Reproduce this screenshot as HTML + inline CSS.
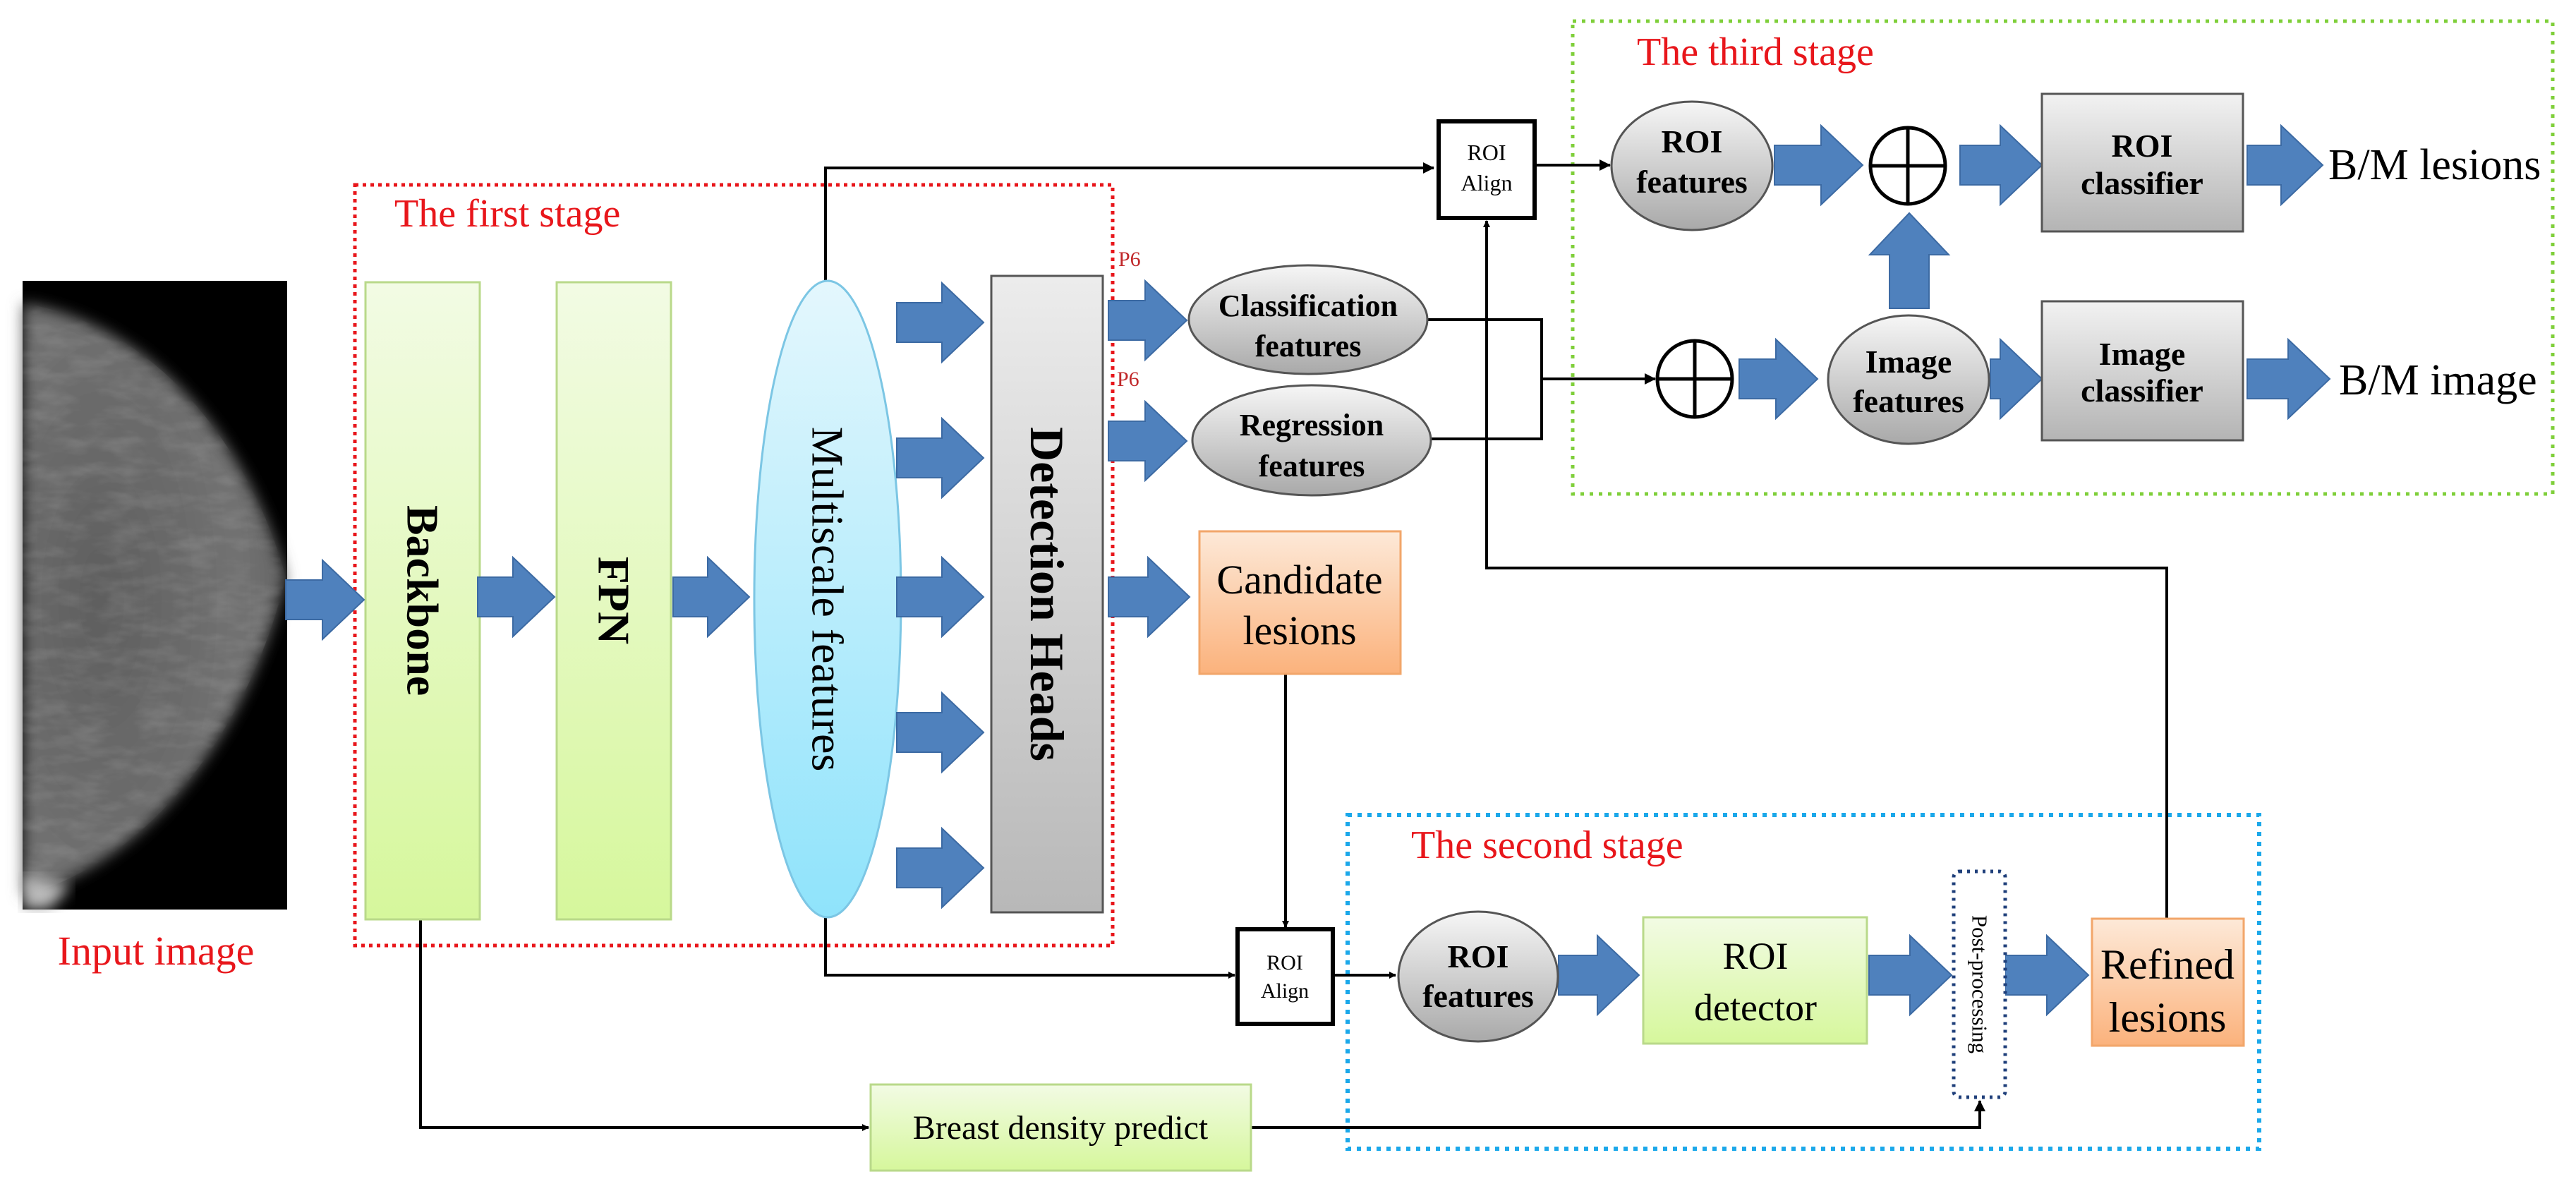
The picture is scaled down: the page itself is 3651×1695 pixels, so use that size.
<!DOCTYPE html>
<html><head><meta charset="utf-8"><style>html,body{margin:0;padding:0;background:#fff}svg{display:block}svg text{font-family:"Liberation Serif","Noto Serif CJK SC","DejaVu Serif",serif}</style></head>
<body>
<svg width="3651" height="1695" viewBox="0 0 3651 1695" xmlns="http://www.w3.org/2000/svg">
<defs>
<linearGradient id="gr" x1="0" y1="0" x2="0" y2="1"><stop offset="0" stop-color="#f2fbe4"/><stop offset="1" stop-color="#d6f79c"/></linearGradient>
<linearGradient id="gy" x1="0" y1="0" x2="0" y2="1"><stop offset="0" stop-color="#f2f2f2"/><stop offset="1" stop-color="#b4b4b4"/></linearGradient>
<linearGradient id="ge" x1="0" y1="0" x2="0" y2="1"><stop offset="0" stop-color="#f6f6f6"/><stop offset="1" stop-color="#a9a9a9"/></linearGradient>
<linearGradient id="gdh" x1="0" y1="0" x2="0" y2="1"><stop offset="0" stop-color="#ececec"/><stop offset="1" stop-color="#b8b8b8"/></linearGradient>
<linearGradient id="go" x1="0" y1="0" x2="0" y2="1"><stop offset="0" stop-color="#fde9d8"/><stop offset="1" stop-color="#fbb27c"/></linearGradient>
<linearGradient id="gb" x1="0" y1="0" x2="0" y2="1"><stop offset="0" stop-color="#e4f7fd"/><stop offset="1" stop-color="#8fe3fb"/></linearGradient>
<radialGradient id="gm" cx="0.3" cy="0.5" r="0.75"><stop offset="0" stop-color="#5e5e5e"/><stop offset="0.7" stop-color="#727272"/><stop offset="0.92" stop-color="#666"/><stop offset="1" stop-color="#2a2a2a"/></radialGradient>
<filter id="bl"><feGaussianBlur stdDeviation="10"/></filter>
<filter id="tx"><feTurbulence type="fractalNoise" baseFrequency="0.02 0.05" numOctaves="3" seed="4"/><feColorMatrix type="matrix" values="0 0 0 0 1  0 0 0 0 1  0 0 0 0 1  0 0 0.9 0 -0.35"/></filter>
<clipPath id="bc"><path d="M32,430 C230,460 360,650 405,818 C360,1010 230,1215 32,1270 Z"/></clipPath>
<marker id="ah" markerWidth="10" markerHeight="10" refX="9" refY="5" orient="auto" markerUnits="userSpaceOnUse"><path d="M0,0 L10,5 L0,10 z" fill="#000"/></marker>
<marker id="ahb" markerWidth="16" markerHeight="16" refX="15" refY="8" orient="auto" markerUnits="userSpaceOnUse"><path d="M0,0 L16,8 L0,16 z" fill="#000"/></marker>
</defs>

<!-- mammogram -->
<rect x="32" y="398" width="375" height="891" fill="#000"/>
<path d="M32,430 C230,460 360,650 405,818 C360,1010 230,1215 32,1270 Z" fill="url(#gm)" filter="url(#bl)"/>
<rect x="32" y="398" width="375" height="891" filter="url(#tx)" clip-path="url(#bc)" opacity="0.25"/>
<path d="M32,1240 L100,1255 L70,1289 L32,1289 Z" fill="#bbb" filter="url(#bl)"/>
<text x="221" y="1367" font-size="58" fill="#e8161b" text-anchor="middle">Input image</text>

<!-- stage boxes -->
<rect x="503" y="262" width="1074" height="1078" fill="none" stroke="#e8161b" stroke-width="5" stroke-dasharray="5,6"/>
<text x="559" y="321" font-size="56" fill="#e8161b">The first stage</text>
<rect x="2229" y="30" width="1389" height="670" fill="none" stroke="#7fcf3a" stroke-width="5" stroke-dasharray="5,8"/>
<text x="2320" y="92" font-size="56" fill="#e8161b">The third stage</text>
<rect x="1910" y="1155" width="1292" height="473" fill="none" stroke="#1ba8ea" stroke-width="6" stroke-dasharray="6,8"/>
<text x="2000" y="1216" font-size="56" fill="#e8161b">The second stage</text>

<!-- connector lines -->
<g stroke="#000" stroke-width="4" fill="none">
<polyline points="1170,398 1170,238 2032,238" marker-end="url(#ahb)"/>
<polyline points="1170,1300 1170,1382 1750,1382" marker-end="url(#ah)"/>
<polyline points="1822,955 1822,1314" marker-end="url(#ah)"/>
<polyline points="596,1303 596,1598 1231,1598" marker-end="url(#ah)"/>
<polyline points="1773,1598 2806,1598 2806,1560" marker-end="url(#ahb)"/>
<polyline points="2024,453 2185,453 2185,622 2029,622"/>
<polyline points="2185,537 2346,537" marker-end="url(#ahb)"/>
<polyline points="3071,1303 3071,805 2107,805 2107,313" marker-end="url(#ah)"/>
<polyline points="2175,234 2282,234" marker-end="url(#ahb)"/>
<polyline points="1889,1382 1978,1382" marker-end="url(#ah)"/>
</g>

<!-- first stage blocks -->
<rect x="518" y="400" width="162" height="903" fill="url(#gr)" stroke="#b9d98a" stroke-width="3"/>
<text transform="translate(599,851) rotate(90)" font-size="64" font-weight="bold" text-anchor="middle" dominant-baseline="central">Backbone</text>
<rect x="789" y="400" width="162" height="903" fill="url(#gr)" stroke="#b9d98a" stroke-width="3"/>
<text transform="translate(870,851) rotate(90)" font-size="64" font-weight="bold" text-anchor="middle" dominant-baseline="central">FPN</text>
<ellipse cx="1173" cy="849" rx="104" ry="451" fill="url(#gb)" stroke="#7cc6e4" stroke-width="3"/>
<text transform="translate(1173,849) rotate(90)" font-size="64" text-anchor="middle" dominant-baseline="central">Multiscale features</text>
<rect x="1405" y="391" width="158" height="902" fill="url(#gdh)" stroke="#555" stroke-width="3"/>
<text transform="translate(1484,842) rotate(90)" font-size="68" font-weight="bold" text-anchor="middle" dominant-baseline="central">Detection Heads</text>

<!-- blue arrows -->
<g fill="#4f81bd" stroke="#3c6aa3" stroke-width="2">
<path d="M405,822 L457,822 L457,794 L516,850 L457,906 L457,878 L405,878 Z"/>
<path d="M677,818 L727,818 L727,790 L786,846 L727,902 L727,874 L677,874 Z"/>
<path d="M954,818 L1003,818 L1003,790 L1062,846 L1003,902 L1003,874 L954,874 Z"/>
<path d="M1271,429 L1335,429 L1335,401 L1394,457 L1335,513 L1335,485 L1271,485 Z"/>
<path d="M1271,621 L1335,621 L1335,593 L1394,649 L1335,705 L1335,677 L1271,677 Z"/>
<path d="M1271,818 L1335,818 L1335,790 L1394,846 L1335,902 L1335,874 L1271,874 Z"/>
<path d="M1271,1010 L1335,1010 L1335,982 L1394,1038 L1335,1094 L1335,1066 L1271,1066 Z"/>
<path d="M1271,1202 L1335,1202 L1335,1174 L1394,1230 L1335,1286 L1335,1258 L1271,1258 Z"/>
<path d="M1571,426 L1623,426 L1623,398 L1682,454 L1623,510 L1623,482 L1571,482 Z"/>
<path d="M1571,597 L1623,597 L1623,569 L1682,625 L1623,681 L1623,653 L1571,653 Z"/>
<path d="M1571,818 L1627,818 L1627,790 L1686,846 L1627,902 L1627,874 L1571,874 Z"/>
<path d="M2515,206 L2581,206 L2581,178 L2640,234 L2581,290 L2581,262 L2515,262 Z"/>
<path d="M2778,206 L2835,206 L2835,178 L2894,234 L2835,290 L2835,262 L2778,262 Z"/>
<path d="M3185,206 L3233,206 L3233,178 L3292,234 L3233,290 L3233,262 L3185,262 Z"/>
<path d="M2678,437 L2678,361 L2650,361 L2706,302 L2762,361 L2734,361 L2734,437 Z"/>
<path d="M2465,509 L2517,509 L2517,481 L2576,537 L2517,593 L2517,565 L2465,565 Z"/>
<path d="M2821,509 L2835,509 L2835,481 L2894,537 L2835,593 L2835,565 L2821,565 Z"/>
<path d="M3185,509 L3243,509 L3243,481 L3302,537 L3243,593 L3243,565 L3185,565 Z"/>
<path d="M2209,1354 L2264,1354 L2264,1326 L2323,1382 L2264,1438 L2264,1410 L2209,1410 Z"/>
<path d="M2649,1354 L2707,1354 L2707,1326 L2766,1382 L2707,1438 L2707,1410 L2649,1410 Z"/>
<path d="M2842,1354 L2901,1354 L2901,1326 L2960,1382 L2901,1438 L2901,1410 L2842,1410 Z"/>
</g>

<!-- P6 labels -->
<text x="1585" y="377" font-size="30" fill="#c0282a">P6</text>
<text x="1583" y="547" font-size="30" fill="#c0282a">P6</text>

<!-- feature ellipses -->
<ellipse cx="1854" cy="453" rx="169" ry="77" fill="url(#ge)" stroke="#555" stroke-width="3"/>
<text x="1854" y="448" font-size="44" font-weight="bold" text-anchor="middle">Classification</text>
<text x="1854" y="505" font-size="44" font-weight="bold" text-anchor="middle">features</text>
<ellipse cx="1859" cy="624" rx="169" ry="78" fill="url(#ge)" stroke="#555" stroke-width="3"/>
<text x="1859" y="617" font-size="44" font-weight="bold" text-anchor="middle">Regression</text>
<text x="1859" y="675" font-size="44" font-weight="bold" text-anchor="middle">features</text>

<rect x="1700" y="753" width="285" height="202" fill="url(#go)" stroke="#f2a66a" stroke-width="3"/>
<text x="1842" y="841" font-size="58" text-anchor="middle">Candidate</text>
<text x="1842" y="913" font-size="58" text-anchor="middle">lesions</text>

<!-- ROI align boxes -->
<rect x="2039" y="172" width="136" height="137" fill="#fff" stroke="#000" stroke-width="6"/>
<text x="2107" y="227" font-size="32" text-anchor="middle">ROI</text>
<text x="2107" y="270" font-size="32" text-anchor="middle">Align</text>
<rect x="1754" y="1317" width="135" height="134" fill="#fff" stroke="#000" stroke-width="6"/>
<text x="1821" y="1374" font-size="30" text-anchor="middle">ROI</text>
<text x="1821" y="1414" font-size="30" text-anchor="middle">Align</text>

<!-- third stage -->
<ellipse cx="2398" cy="235" rx="114" ry="91" fill="url(#ge)" stroke="#555" stroke-width="3"/>
<text x="2398" y="216" font-size="46" font-weight="bold" text-anchor="middle">ROI</text>
<text x="2398" y="273" font-size="46" font-weight="bold" text-anchor="middle">features</text>
<g stroke="#000" stroke-width="5" fill="#fff">
<ellipse cx="2704" cy="235" rx="53" ry="54"/>
<line x1="2651" y1="235" x2="2757" y2="235"/><line x1="2704" y1="181" x2="2704" y2="289"/>
<ellipse cx="2402" cy="537" rx="53" ry="54"/>
<line x1="2349" y1="537" x2="2455" y2="537"/><line x1="2402" y1="483" x2="2402" y2="591"/>
</g>
<rect x="2894" y="133" width="285" height="195" fill="url(#gy)" stroke="#555" stroke-width="3"/>
<text x="3036" y="222" font-size="46" font-weight="bold" text-anchor="middle">ROI</text>
<text x="3036" y="275" font-size="46" font-weight="bold" text-anchor="middle">classifier</text>
<text x="3300" y="254" font-size="62">B/M lesions</text>
<ellipse cx="2705" cy="538" rx="114" ry="91" fill="url(#ge)" stroke="#555" stroke-width="3"/>
<text x="2705" y="528" font-size="46" font-weight="bold" text-anchor="middle">Image</text>
<text x="2705" y="584" font-size="46" font-weight="bold" text-anchor="middle">features</text>
<rect x="2894" y="427" width="285" height="197" fill="url(#gy)" stroke="#555" stroke-width="3"/>
<text x="3036" y="517" font-size="46" font-weight="bold" text-anchor="middle">Image</text>
<text x="3036" y="569" font-size="46" font-weight="bold" text-anchor="middle">classifier</text>
<text x="3315" y="559" font-size="62">B/M image</text>

<!-- second stage -->
<ellipse cx="2095" cy="1384" rx="113" ry="92" fill="url(#ge)" stroke="#555" stroke-width="3"/>
<text x="2095" y="1371" font-size="46" font-weight="bold" text-anchor="middle">ROI</text>
<text x="2095" y="1427" font-size="46" font-weight="bold" text-anchor="middle">features</text>
<rect x="2329" y="1300" width="317" height="179" fill="url(#gr)" stroke="#b9d98a" stroke-width="3"/>
<text x="2488" y="1373" font-size="54" text-anchor="middle">ROI</text>
<text x="2488" y="1446" font-size="54" text-anchor="middle">detector</text>
<rect x="2769" y="1235" width="73" height="320" rx="8" fill="#fff" stroke="#1f3f7a" stroke-width="5" stroke-dasharray="4,7"/>
<text transform="translate(2806,1395) rotate(90)" font-size="31" text-anchor="middle" dominant-baseline="central">Post-processing</text>
<rect x="2965" y="1302" width="215" height="180" fill="url(#go)" stroke="#f2a66a" stroke-width="3"/>
<text x="3072" y="1387" font-size="60" text-anchor="middle">Refined</text>
<text x="3072" y="1462" font-size="60" text-anchor="middle">lesions</text>

<!-- breast density -->
<rect x="1234" y="1537" width="539" height="122" fill="url(#gr)" stroke="#b9d98a" stroke-width="3"/>
<text x="1503" y="1614" font-size="48" text-anchor="middle">Breast density predict</text>
</svg>
</body></html>
